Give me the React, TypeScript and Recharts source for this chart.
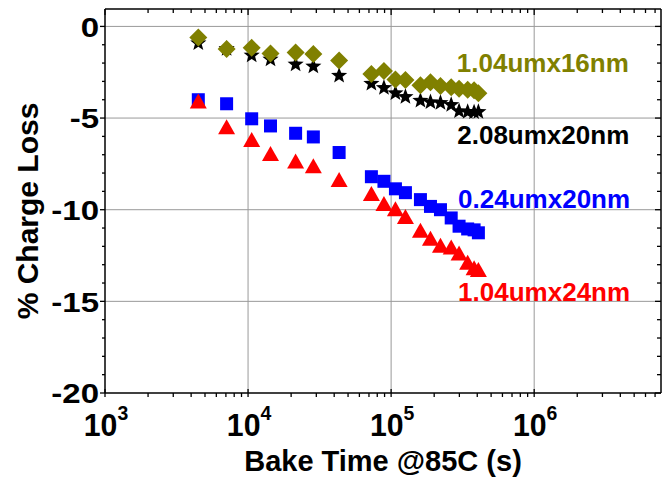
import React from 'react';
import {
  ScatterChart,
  Scatter,
  XAxis,
  YAxis,
  CartesianGrid,
  ReferenceDot
} from 'recharts';

// bake times (s), shared by all four devices
const bakeTime = [
  4490, 7080, 10600, 14350, 21500, 28600, 43300, 72800, 89100, 107200,
  125900, 160300, 188400, 221300, 263000, 298500, 342800, 380200, 407400
];

// % charge loss per device
const loss104x16 = [
  -0.6, -1.23, -1.17, -1.48, -1.43, -1.5, -1.86, -2.6, -2.43, -2.89,
  -2.93, -3.21, -3.05, -3.25, -3.32, -3.4, -3.45, -3.48, -3.65
];
const loss208x20 = [
  -0.91, -1.22, -1.58, -1.8, -2.07, -2.18, -2.69, -3.12, -3.35, -3.64,
  -3.84, -4.05, -4.13, -4.17, -4.28, -4.62, -4.66, -4.68, -4.66
];
const loss024x20 = [
  -4.0, -4.22, -5.04, -5.43, -5.83, -6.03, -6.88, -8.2, -8.45, -8.86,
  -9.07, -9.45, -9.82, -10.0, -10.45, -10.9, -11.05, -11.1, -11.26
];
const loss104x24 = [
  -4.15, -5.55, -6.25, -7.01, -7.43, -7.68, -8.43, -9.2, -9.74, -10.03,
  -10.45, -11.2, -11.64, -12.02, -12.12, -12.45, -12.95, -13.25, -13.35
];

// series name labels: text, anchor time, anchor value, colour
const labelText = ['1.04umx16nm', '2.08umx20nm', '0.24umx20nm', '1.04umx24nm'];
const labelTime = [288000, 290000, 294000, 294000];
const labelValue = [-1.98, -5.9, -9.38, -14.48];
const labelColor = ['#808000', '#000000', '#0000ff', '#ff0000'];

const xMajorTicks = [1e3, 1e4, 1e5, 1e6];
const X_DOMAIN: [number, number] = [1000, 7.7e6];
const Y_DOMAIN: [number, number] = [-20, 0.95];

// minor ticks 2..9 inside each decade
const xTicks: number[] = [];
xMajorTicks.forEach((d) => {
  for (let m = 1; m <= 9; m++) {
    const v = d * m;
    if (v <= X_DOMAIN[1]) xTicks.push(v);
  }
});
const yTicks: number[] = [];
for (let v = 0; v >= -20; v--) yTicks.push(v);

const FONT = '"Liberation Sans", Arial, Helvetica, sans-serif';

const rows = (vals: number[]) => bakeTime.map((t, i) => ({ t, v: vals[i] }));

const isMajorX = (v: number) => xMajorTicks.includes(v);
const isMajorY = (v: number) => v % 5 === 0;

// marker shapes
const Diamond = ({ cx, cy, fill }: any) => (
  <polygon
    points={`${cx},${cy - 9} ${cx + 9},${cy} ${cx},${cy + 9} ${cx - 9},${cy}`}
    fill={fill}
  />
);

const Square = ({ cx, cy, fill }: any) => (
  <rect x={cx - 6.5} y={cy - 6.5} width={13} height={13} fill={fill} />
);

const Triangle = ({ cx, cy, fill }: any) => (
  <polygon
    points={`${cx},${cy - 9} ${cx + 8.5},${cy + 6} ${cx - 8.5},${cy + 6}`}
    fill={fill}
  />
);

const Star = ({ cx, cy, fill }: any) => {
  const pts: string[] = [];
  for (let i = 0; i < 10; i++) {
    const r = i % 2 === 0 ? 8.5 : 3.6;
    const a = -Math.PI / 2 + (i * Math.PI) / 5;
    pts.push(`${cx + r * Math.cos(a)},${cy + r * Math.sin(a)}`);
  }
  return <polygon points={pts.join(' ')} fill={fill} />;
};

// axis ticks
const BottomTick = ({ x, y, payload }: any) => {
  const v = payload.value;
  const major = isMajorX(v);
  const exp = Math.round(Math.log10(v));
  return (
    <g>
      <line x1={x} x2={x} y1={major ? y - 4 : y} y2={y + 4} stroke="#000" strokeWidth={1.3} />
      {major && (
        <text
          transform={`translate(${x + 1},${y + 43}) scale(1.08,1.1)`}
          textAnchor="middle"
          fontFamily={FONT}
          fontWeight="bold"
          fontSize={28}
          fill="#000"
        >
          <tspan>10</tspan>
          <tspan dy={-15} fontSize={18}>{exp}</tspan>
        </text>
      )}
    </g>
  );
};

const TopTick = ({ x, y, payload }: any) => (
  <line x1={x} x2={x} y1={y} y2={y + (isMajorX(payload.value) ? 6 : 4)} stroke="#000" strokeWidth={1.3} />
);

const LeftTick = ({ x, y, payload }: any) => {
  const major = isMajorY(payload.value);
  return (
    <g>
      <line x1={x - (major ? 5 : 3)} x2={x} y1={y} y2={y} stroke="#000" strokeWidth={1.3} />
      {major && (
        <text
          transform={`translate(${x - 6},${y}) scale(1.18,1.02)`}
          dy="0.36em"
          textAnchor="end"
          fontFamily={FONT}
          fontWeight="bold"
          fontSize={28}
          fill="#000"
        >
          {payload.value}
        </text>
      )}
    </g>
  );
};

const RightTick = ({ x, y, payload }: any) => (
  <line x1={x - (isMajorY(payload.value) ? 6 : 4)} x2={x} y1={y} y2={y} stroke="#000" strokeWidth={1.3} />
);

const XTitle = ({ viewBox }: any) => (
  <text
    x={viewBox.x + viewBox.width / 2}
    y={viewBox.y + viewBox.height - 7}
    textAnchor="middle"
    fontFamily={FONT}
    fontWeight="bold"
    fontSize={29}
    fill="#000"
  >
    Bake Time @85C (s)
  </text>
);

const YTitle = ({ viewBox }: any) => {
  const cx = 27;
  const cy = viewBox.y + viewBox.height / 2 + 10;
  return (
    <text
      x={cx}
      y={cy}
      dy="0.36em"
      transform={`rotate(-90 ${cx} ${cy})`}
      textAnchor="middle"
      fontFamily={FONT}
      fontWeight="bold"
      fontSize={30}
      fill="#000"
    >
      % Charge Loss
    </text>
  );
};

const series = [
  { name: '0.24umx20nm', data: rows(loss024x20), color: '#0000ff', shape: Square },
  { name: '1.04umx24nm', data: rows(loss104x24), color: '#ff0000', shape: Triangle },
  { name: '2.08umx20nm', data: rows(loss208x20), color: '#000000', shape: Star },
  { name: '1.04umx16nm', data: rows(loss104x16), color: '#808000', shape: Diamond }
];

const frame = { stroke: '#000', strokeWidth: 1.5 };

export default function App() {
  return (
    <div style={{ position: 'absolute', left: 0, top: 0, width: 662, height: 478, background: '#fff' }}>
      <ScatterChart width={662} height={478} margin={{ top: 8, right: 0, bottom: 0, left: 0 }}>
        <CartesianGrid
          verticalValues={[1e4, 1e5, 1e6]}
          horizontalValues={[0, -5, -10, -15]}
          stroke="#999"
          strokeWidth={1}
        />
        <XAxis
          type="number"
          dataKey="t"
          scale="log"
          domain={X_DOMAIN}
          allowDataOverflow
          ticks={xTicks}
          interval={0}
          tickSize={0}
          tickMargin={0}
          tickLine={false}
          tick={(p: any) => <BottomTick {...p} />}
          height={85}
          axisLine={frame}
          label={<XTitle />}
        />
        <XAxis
          xAxisId="top"
          orientation="top"
          type="number"
          dataKey="t"
          scale="log"
          domain={X_DOMAIN}
          allowDataOverflow
          ticks={xTicks}
          interval={0}
          tickSize={0}
          tickMargin={0}
          tickLine={false}
          tick={(p: any) => <TopTick {...p} />}
          height={1}
          axisLine={frame}
        />
        <YAxis
          type="number"
          dataKey="v"
          domain={Y_DOMAIN}
          allowDataOverflow
          ticks={yTicks}
          interval={0}
          tickSize={0}
          tickMargin={0}
          tickLine={false}
          tick={(p: any) => <LeftTick {...p} />}
          width={105}
          axisLine={frame}
          label={<YTitle />}
        />
        <YAxis
          yAxisId="right"
          orientation="right"
          type="number"
          dataKey="v"
          domain={Y_DOMAIN}
          allowDataOverflow
          ticks={yTicks}
          interval={0}
          tickSize={0}
          tickMargin={0}
          tickLine={false}
          tick={(p: any) => <RightTick {...p} />}
          width={1}
          axisLine={frame}
        />
        {/* hidden series so the top/right frame axes get a domain */}
        <Scatter
          data={rows(loss024x20)}
          xAxisId="top"
          yAxisId="right"
          shape={() => <g />}
          legendType="none"
          isAnimationActive={false}
        />
        {series.map((s) => (
          <Scatter
            key={s.name}
            name={s.name}
            data={s.data}
            fill={s.color}
            shape={(p: any) => <s.shape {...p} fill={s.color} />}
            isAnimationActive={false}
          />
        ))}
        {labelText.map((txt, i) => (
          <ReferenceDot
            key={txt}
            x={labelTime[i]}
            y={labelValue[i]}
            r={0}
            fill="none"
            stroke="none"
            label={{
              value: txt,
              position: 'right',
              offset: 0,
              fill: labelColor[i],
              fontSize: 26,
              fontWeight: 'bold',
              fontFamily: FONT
            }}
          />
        ))}
      </ScatterChart>
    </div>
  );
}
